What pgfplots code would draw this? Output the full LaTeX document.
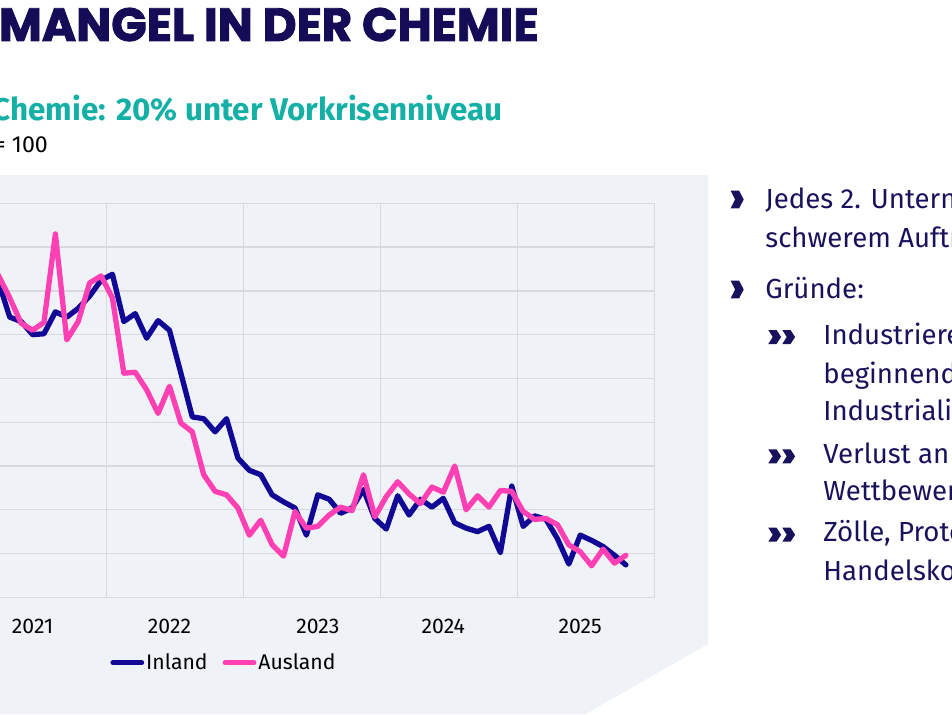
\documentclass[border=0pt]{standalone}
\usepackage{pgfplots}
\pgfplotsset{compat=1.18}
\usepackage{fontspec}
\setmainfont{Fira Sans}
\newfontfamily\titlefont{Poppins}[FakeBold=2]

\definecolor{titlenavy}{RGB}{20,12,86}
\definecolor{textnavy}{RGB}{24,18,92}
\definecolor{teal}{RGB}{20,176,166}
\definecolor{inland}{RGB}{17,8,150}
\definecolor{ausland}{RGB}{255,64,180}
\definecolor{panel}{RGB}{239,242,247}
\definecolor{gridc}{RGB}{216,217,222}

% Monthly index values, x = months since January 2021
\pgfplotstableread{
m v
1 112.0
2 111.1
3 107.0
4 106.5
5 105.0
6 105.1
7 107.6
8 107.0
9 108.0
10 109.4
11 111.2
12 111.9
13 106.5
14 107.4
15 104.6
16 106.6
17 105.5
18 100.6
19 95.6
20 95.4
21 93.9
22 95.4
23 90.9
24 89.5
25 89.0
26 86.7
27 85.9
28 85.2
29 82.1
30 86.7
31 86.2
32 84.6
33 85.2
34 87.3
35 84.0
36 82.8
37 86.6
38 84.4
39 86.2
40 85.3
41 86.3
42 83.5
43 82.9
44 82.5
45 83.1
46 80.1
47 87.7
48 83.1
49 84.3
50 83.9
51 81.7
52 78.8
53 82.1
54 81.5
55 80.8
56 79.8
57 78.7
}\inlandtab

\pgfplotstableread{
m v
1 113.0
2 111.8
3 109.2
4 106.3
5 105.5
6 106.4
7 116.5
8 104.4
9 106.5
10 110.9
11 111.7
12 109.2
13 100.6
14 100.7
15 98.7
16 96.0
17 99.1
18 94.9
19 93.9
20 89.0
21 87.1
22 86.7
23 85.2
24 82.1
25 83.8
26 81.0
27 79.7
28 84.8
29 82.9
30 83.1
31 84.4
32 85.3
33 84.9
34 89.0
35 84.2
36 86.5
37 88.2
38 86.8
39 85.7
40 87.6
41 87.0
42 90.0
43 85.0
44 86.6
45 85.3
46 87.2
47 87.1
48 84.8
49 83.9
50 84.0
51 83.3
52 81.0
53 80.2
54 78.6
55 80.5
56 78.9
57 79.8
}\auslandtab

% bold chevron bullets, bottom at the text baseline
\newcommand\chev[2]{\fill[textnavy] (#1,#2+17.6) -- ++(8.4,0) -- ++(4.6,-8.8) -- ++(-4.6,-8.8) -- ++(-8.4,0) -- ++(4.4,8.8) -- cycle;}
\newcommand\schev[2]{\fill[textnavy] (#1,#2+14) -- ++(8.2,0) -- ++(4.6,-7) -- ++(-4.6,-7) -- ++(-8.2,0) -- ++(4.4,7) -- cycle;}
\newcommand\dchev[2]{\schev{#1}{#2}\schev{#1+14}{#2}}

\begin{document}
\begin{tikzpicture}[x=0.5pt,y=0.5pt]
\path[use as bounding box] (0,0) rectangle (952,714);
\begin{scope}
\clip (0,0) rectangle (952,714);

% chart panel
\fill[panel] (-10,539) -- (708,539) -- (708,70) -- (585.8,0) -- (-10,0) -- cycle;

\begin{axis}[
  at={(-15.1pt,58.35pt)}, anchor=south west,
  scale only axis, width=342.3pt, height=197pt,
  xmin=-0.5, xmax=59.5, ymin=75, ymax=120,
  axis line style={draw=gridc, line width=0.65pt},
  tick style={draw=none},
  ytick={75,80,...,120}, yticklabels={,,,,,,,,,},
  ymajorgrids,
  grid style={draw=gridc, line width=0.65pt},
  xtick={5,17,30,41,53},
  xticklabels={2021,2022,2023,2024,2025},
  extra x ticks={11.5,23.5,35.5,47.5},
  extra x tick labels={,,,},
  extra x tick style={grid=major},
  xticklabel style={font=\fontsize{10.6}{12.5}\selectfont, text=black, yshift=-7.5pt},
  legend columns=2,
  legend style={draw=none, fill=none, inner sep=0pt,
    at={(0.2048,-0.166)}, anchor=west,
    font=\fontsize{10.6}{12.5}\selectfont,
    nodes={inner xsep=1pt, inner ysep=0.5pt},
    /tikz/every even column/.append style={column sep=6.5pt}},
  legend image code/.code={\draw[#1, line cap=round] (1.25pt,0pt) -- (15.5pt,0pt);},
]
\addplot[inland, line width=2.65pt, line join=round, line cap=round] table[x=m, y=v] {\inlandtab};
\addlegendentry{Inland}
\addplot[ausland, line width=2.65pt, line join=round, line cap=round] table[x=m, y=v] {\auslandtab};
\addlegendentry{Ausland}
\end{axis}

% headings
\node[anchor=base east, inner sep=0, text=titlenavy, font=\titlefont\bfseries\fontsize{23.3}{26}\selectfont] at (539,673) {MANGEL IN DER CHEMIE};
\node[anchor=base east, inner sep=0, text=teal, font=\bfseries\fontsize{15.7}{18}\selectfont] at (503,594) {Chemie: 20\% unter Vorkrisenniveau};
\node[anchor=base east, inner sep=0, text=black, font=\fontsize{11.6}{13.5}\selectfont] at (48.3,561.3) {= 100};

% bullet list
\begin{scope}[every node/.style={anchor=base west, inner sep=0, text=textnavy, font=\fontsize{13.8}{16}\selectfont}]
\chev{730.7}{505.7}
\node at (765,505.7) {Jedes 2. Unternehmen klagt über};
\node at (765,466.7) {schwerem Auftragsmangel};
\chev{730.7}{415.7}
\node at (765,415.7) {Gründe:};
\dchev{768.3}{370}
\node at (823,370) {Industrierezession und};
\node at (823,330.7) {beginnende De-};
\node at (823,293.3) {Industrialisierung};
\dchev{768.3}{250.7}
\node at (823,250.7) {Verlust an internationaler};
\node at (823,213.3) {Wettbewerbsfähigkeit};
\dchev{768.3}{172.3}
\node at (823,172.3) {Zölle, Protektionismus,};
\node at (823,133.3) {Handelskonflikte};
\end{scope}
\end{scope}
\end{tikzpicture}
\end{document}
